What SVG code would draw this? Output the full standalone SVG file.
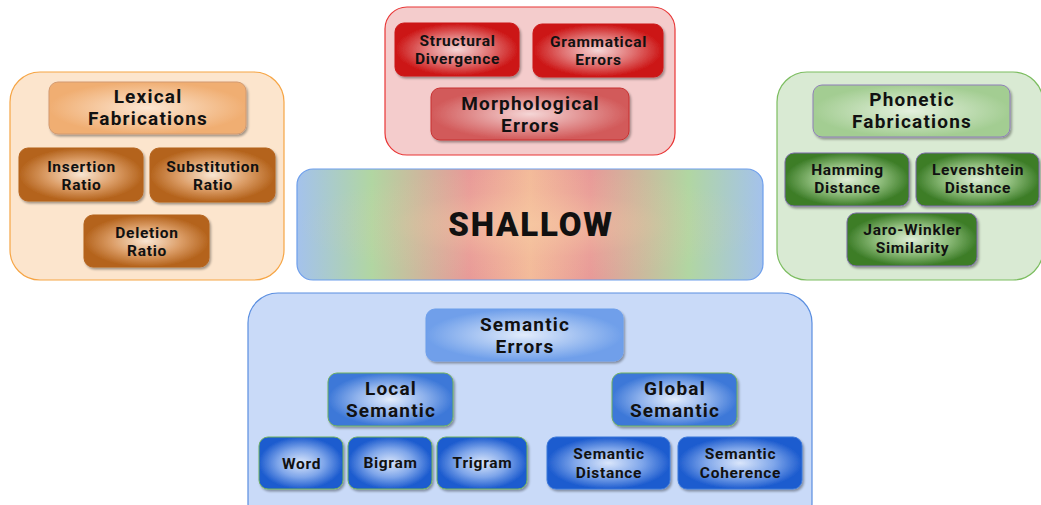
<svg xmlns="http://www.w3.org/2000/svg" width="1041" height="505" viewBox="0 0 1041 505">
  <defs>
    <filter id="sh" x="-10%" y="-10%" width="125%" height="135%">
      <feDropShadow dx="1.5" dy="2" stdDeviation="1.2" flood-color="#000" flood-opacity="0.35"/>
    </filter>
    <!-- orange family -->
    <radialGradient id="gLexTitle"><stop offset="0" stop-color="#fce6d2"/><stop offset="1" stop-color="#f0ae72"/></radialGradient>
    <radialGradient id="gLex"><stop offset="0" stop-color="#f9e6d2"/><stop offset="0.55" stop-color="#dc9e68"/><stop offset="1" stop-color="#b4631c"/></radialGradient>
    <!-- red family -->
    <radialGradient id="gRed"><stop offset="0" stop-color="#f5d6d6"/><stop offset="0.55" stop-color="#e07070"/><stop offset="1" stop-color="#cc1414"/></radialGradient>
    <radialGradient id="gMorph"><stop offset="0" stop-color="#f5d6d6"/><stop offset="1" stop-color="#d25a5a"/></radialGradient>
    <!-- green family -->
    <radialGradient id="gPhonTitle"><stop offset="0" stop-color="#e4f0de"/><stop offset="1" stop-color="#a3cd92"/></radialGradient>
    <radialGradient id="gPhon"><stop offset="0" stop-color="#e0eed8"/><stop offset="0.55" stop-color="#8fbd7c"/><stop offset="1" stop-color="#3d7d28"/></radialGradient>
    <!-- blue family -->
    <radialGradient id="gSemTitle"><stop offset="0" stop-color="#e2ecfb"/><stop offset="1" stop-color="#6f9fea"/></radialGradient>
    <radialGradient id="gSemMid"><stop offset="0" stop-color="#e2ecfb"/><stop offset="0.55" stop-color="#8fb2ec"/><stop offset="1" stop-color="#3d78d8"/></radialGradient>
    <radialGradient id="gSemLeaf"><stop offset="0" stop-color="#dae6fb"/><stop offset="0.55" stop-color="#7fa6ea"/><stop offset="1" stop-color="#1d5ccf"/></radialGradient>
    <!-- centre band -->
    <linearGradient id="gShallow" x1="0" y1="0" x2="1" y2="0">
      <stop offset="0" stop-color="#a4c2ec"/>
      <stop offset="0.16" stop-color="#b1d6a2"/>
      <stop offset="0.37" stop-color="#e89a98"/>
      <stop offset="0.5" stop-color="#f3bb9a"/>
      <stop offset="0.63" stop-color="#e89a98"/>
      <stop offset="0.84" stop-color="#b1d6a2"/>
      <stop offset="1" stop-color="#a4c2ec"/>
    </linearGradient>
    <radialGradient id="gShallowGlow">
      <stop offset="0" stop-color="#f8cca4" stop-opacity="0.65"/>
      <stop offset="0.6" stop-color="#f8cca4" stop-opacity="0.1"/>
      <stop offset="1" stop-color="#f8cca4" stop-opacity="0"/>
    </radialGradient>
  </defs>
  <style>
    text { font-family: "Roboto", "Liberation Sans", sans-serif; font-weight: 700; fill: #111; text-anchor: middle; }
    .t1 { font-size: 19px; letter-spacing: 1.2px; }
    .t2 { font-size: 15.5px; letter-spacing: 0.7px; }
    .big { font-size: 33px; font-weight: 900; letter-spacing: 1.8px; }
    .box { filter: url(#sh); }
  </style>

  <!-- lexical fabrications -->
  <g id="lexical">
    <rect x="10" y="72" width="274" height="208" rx="30" fill="#fce5cd" stroke="#f6a545" stroke-width="1.2"/>
    <g id="lexical-title"><rect class="box" x="49" y="82" width="197" height="52" rx="9" fill="url(#gLexTitle)" stroke="#d29a70"/>
      <text class="t1" x="148" y="103">Lexical</text><text class="t1" x="148" y="125">Fabrications</text></g>
    <g id="insertion"><rect class="box" x="19" y="148" width="124" height="53" rx="9" fill="url(#gLex)" stroke="#b4631c"/>
      <text class="t2" x="81.5" y="172">Insertion</text><text class="t2" x="81.5" y="190">Ratio</text></g>
    <g id="substitution"><rect class="box" x="150" y="148" width="125" height="54" rx="9" fill="url(#gLex)" stroke="#b4631c"/>
      <text class="t2" x="213" y="172">Substitution</text><text class="t2" x="213" y="190">Ratio</text></g>
    <g id="deletion"><rect class="box" x="84" y="215" width="125" height="52" rx="9" fill="url(#gLex)" stroke="#b4631c"/>
      <text class="t2" x="147" y="238">Deletion</text><text class="t2" x="147" y="256">Ratio</text></g>
  </g>

  <!-- structural / grammatical errors -->
  <g id="structural">
    <rect x="385" y="7" width="290" height="148" rx="22" fill="#f4cccc" stroke="#e83535" stroke-width="1.2"/>
    <g id="structural-divergence"><rect class="box" x="395" y="23" width="124" height="53" rx="9" fill="url(#gRed)" stroke="#cc1414"/>
      <text class="t2" x="457.5" y="46">Structural</text><text class="t2" x="457.5" y="64">Divergence</text></g>
    <g id="grammatical"><rect class="box" x="533" y="24" width="130" height="53" rx="9" fill="url(#gRed)" stroke="#cc1414"/>
      <text class="t2" x="598.5" y="47">Grammatical</text><text class="t2" x="598.5" y="65">Errors</text></g>
    <g id="morphological"><rect class="box" x="431" y="88" width="198" height="52" rx="9" fill="url(#gMorph)" stroke="#c83030"/>
      <text class="t1" x="530.5" y="110">Morphological</text><text class="t1" x="530.5" y="132">Errors</text></g>
  </g>

  <!-- phonetic fabrications -->
  <g id="phonetic">
    <rect x="777" y="72" width="266" height="208" rx="30" fill="#d9ead3" stroke="#7cbd60" stroke-width="1.2"/>
    <g id="phonetic-title"><rect class="box" x="813" y="85" width="197" height="52" rx="9" fill="url(#gPhonTitle)" stroke="#8f7fb8"/>
      <text class="t1" x="912" y="106">Phonetic</text><text class="t1" x="912" y="128">Fabrications</text></g>
    <g id="hamming"><rect class="box" x="785" y="153" width="124" height="53" rx="9" fill="url(#gPhon)" stroke="#7a6aa8"/>
      <text class="t2" x="847.5" y="175">Hamming</text><text class="t2" x="847.5" y="193">Distance</text></g>
    <g id="levenshtein"><rect class="box" x="916" y="153" width="123" height="53" rx="9" fill="url(#gPhon)" stroke="#7a6aa8"/>
      <text class="t2" x="978" y="175">Levenshtein</text><text class="t2" x="978" y="193">Distance</text></g>
    <g id="jaro-winkler"><rect class="box" x="847" y="213" width="130" height="53" rx="9" fill="url(#gPhon)" stroke="#7a6aa8"/>
      <text class="t2" x="912.5" y="235">Jaro-Winkler</text><text class="t2" x="912.5" y="253">Similarity</text></g>
  </g>

  <!-- centre band -->
  <g id="shallow">
    <rect x="297" y="169" width="466" height="111" rx="16" fill="url(#gShallow)" stroke="#6d9eeb" stroke-width="1.2"/>
    <rect x="297" y="169" width="466" height="111" rx="16" fill="url(#gShallowGlow)"/>
    <text class="big" x="531" y="236">SHALLOW</text>
  </g>

  <!-- semantic errors -->
  <g id="semantic">
    <rect x="248" y="293" width="564" height="240" rx="30" fill="#c9daf8" stroke="#5a8ee0" stroke-width="1.2"/>
    <g id="semantic-title"><rect class="box" x="426" y="309" width="197" height="52" rx="9" fill="url(#gSemTitle)" stroke="#6d9eeb"/>
      <text class="t1" x="525" y="331">Semantic</text><text class="t1" x="525" y="353">Errors</text></g>
    <g id="local-semantic"><rect class="box" x="328" y="373" width="125" height="53" rx="9" fill="url(#gSemMid)" stroke="#6fb060"/>
      <text class="t1" x="391" y="395">Local</text><text class="t1" x="391" y="417">Semantic</text></g>
    <g id="global-semantic"><rect class="box" x="612" y="373" width="125" height="53" rx="9" fill="url(#gSemMid)" stroke="#6fb060"/>
      <text class="t1" x="675" y="395">Global</text><text class="t1" x="675" y="417">Semantic</text></g>
    <g id="word"><rect class="box" x="259" y="437" width="84" height="52" rx="9" fill="url(#gSemLeaf)" stroke="#6fb060"/>
      <text class="t2" x="301.5" y="469">Word</text></g>
    <g id="bigram"><rect class="box" x="348" y="437" width="84" height="52" rx="9" fill="url(#gSemLeaf)" stroke="#6fb060"/>
      <text class="t2" x="390.5" y="468">Bigram</text></g>
    <g id="trigram"><rect class="box" x="437" y="437" width="90" height="52" rx="9" fill="url(#gSemLeaf)" stroke="#6fb060"/>
      <text class="t2" x="482.5" y="468">Trigram</text></g>
    <g id="semantic-distance"><rect class="box" x="547" y="437" width="123" height="52" rx="9" fill="url(#gSemLeaf)" stroke="#3d78d8"/>
      <text class="t2" x="609" y="459">Semantic</text><text class="t2" x="609" y="478">Distance</text></g>
    <g id="semantic-coherence"><rect class="box" x="678" y="437" width="124" height="52" rx="9" fill="url(#gSemLeaf)" stroke="#3d78d8"/>
      <text class="t2" x="740.5" y="459">Semantic</text><text class="t2" x="740.5" y="478">Coherence</text></g>
  </g>

  <!-- no connectors are drawn between the groups -->
  <g id="connectors"/>
</svg>
